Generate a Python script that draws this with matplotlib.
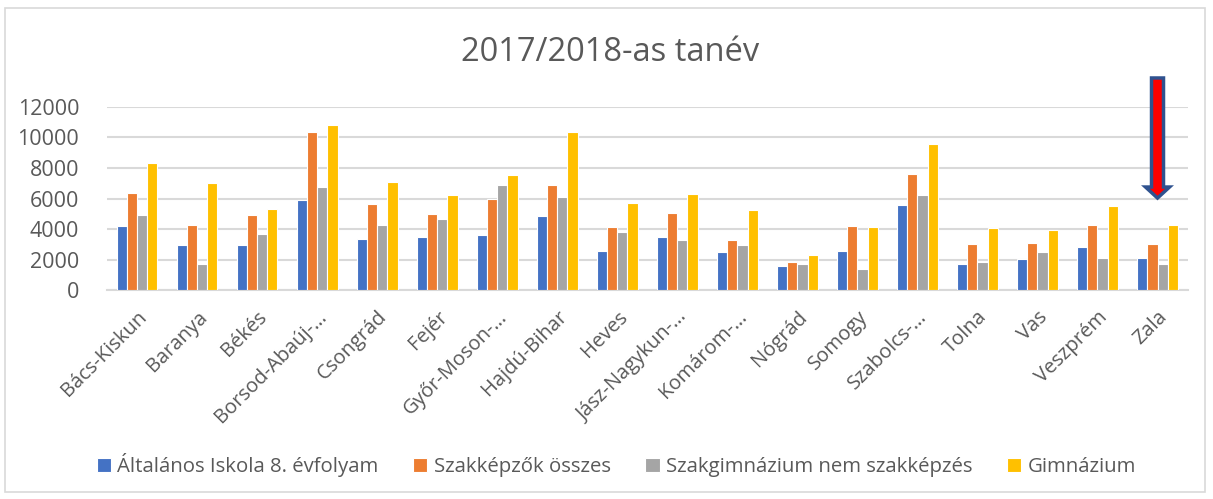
import matplotlib
matplotlib.use("Agg")
import matplotlib.pyplot as plt
import numpy as np
from matplotlib.patches import Rectangle, FancyArrow

categories = ["Bács-Kiskun", "Baranya", "Békés", "Borsod-Abaúj-…", "Csongrád", "Fejér",
              "Győr-Moson-…", "Hajdú-Bihar", "Heves", "Jász-Nagykun-…", "Komárom-…",
              "Nógrád", "Somogy", "Szabolcs-…", "Tolna", "Vas", "Veszprém", "Zala"]
series_names = ["Általános Iskola 8. évfolyam", "Szakképzők összes",
                "Szakgimnázium nem szakképzés", "Gimnázium"]
altalanos = [4200, 2960, 2980, 5880, 3350, 3460, 3640, 4860, 2570, 3490, 2530, 1590, 2590, 5590, 1720, 2070, 2850, 2130]
szakkepzok = [6380, 4270, 4920, 10350, 5640, 4990, 5990, 6880, 4160, 5030, 3270, 1850, 4200, 7590, 3020, 3110, 4240, 3040]
szakgimn = [4900, 1720, 3700, 6770, 4270, 4640, 6880, 6100, 3790, 3270, 2960, 1720, 1390, 6220, 1870, 2520, 2110, 1720]
gimnazium = [8340, 6990, 5310, 10820, 7100, 6210, 7560, 10320, 5680, 6290, 5250, 2310, 4150, 9590, 4040, 3940, 5520, 4280]
yticks = [0, 2000, 4000, 6000, 8000, 10000, 12000]
title = "2017/2018-as tanév"

colors = ["#4472C4", "#ED7D31", "#A5A5A5", "#FFC000"]
txt = "#595959"

fig = plt.figure(figsize=(12.13, 4.99), dpi=100)
ax = fig.add_axes([0.0882, 0.4182, 0.8908, 0.368])

x = np.arange(len(categories))
bw = 0.17
data = [altalanos, szakkepzok, szakgimn, gimnazium]
for i, (vals, c, name) in enumerate(zip(data, colors, series_names)):
    ax.bar(x + (i - 1.5) * bw, vals, width=bw, color=c, edgecolor="white",
           linewidth=0.8, label=name, zorder=3)

ax.set_xlim(-0.5, len(categories) - 0.5)
ax.set_ylim(0, 12000)
ax.set_yticks(yticks)
ax.set_yticklabels([str(v) for v in yticks], fontsize=15.5, color=txt, family="Open Sans")
ax.set_xticks(x)
ax.set_xticklabels(categories, rotation=45, ha="right", rotation_mode="anchor",
                   fontsize=14.5, color=txt, family="Open Sans")
ax.tick_params(axis="both", length=0)
ax.tick_params(axis="y", pad=20)
ax.tick_params(axis="x", pad=12)
ax.grid(axis="y", color="#D9D9D9", linewidth=1.5, zorder=0)
for s in ["top", "right", "left"]:
    ax.spines[s].set_visible(False)
ax.spines["bottom"].set_color("#D9D9D9")
ax.spines["bottom"].set_linewidth(1.5)

fig.text(0.503, 0.895, title, ha="center", va="center", fontsize=23.5, color=txt, family="Open Sans")

leg = fig.legend(loc="center", bbox_to_anchor=(0.508, 0.068), ncol=4, frameon=False,
                 handlelength=0.7, handleheight=0.7, handletextpad=0.3, columnspacing=1.7,
                 prop={"family": "Open Sans", "size": 14.7})
for t in leg.get_texts():
    t.set_color(txt)

arrow = FancyArrow(17, 13876, 0, 6030 - 13876, width=0.2, head_width=0.4,
                   head_length=720, length_includes_head=True, fc="#FF0000",
                   ec="#2F528F", lw=2.5, clip_on=False, zorder=5)
ax.add_patch(arrow)

fig.patches.append(Rectangle((5 / 1213, 1 - 492 / 499), 1200 / 1213, 484 / 499,
                             transform=fig.transFigure, fill=False, ec="#D9D9D9", lw=1.2))

fig.savefig("out.png", dpi=100)
